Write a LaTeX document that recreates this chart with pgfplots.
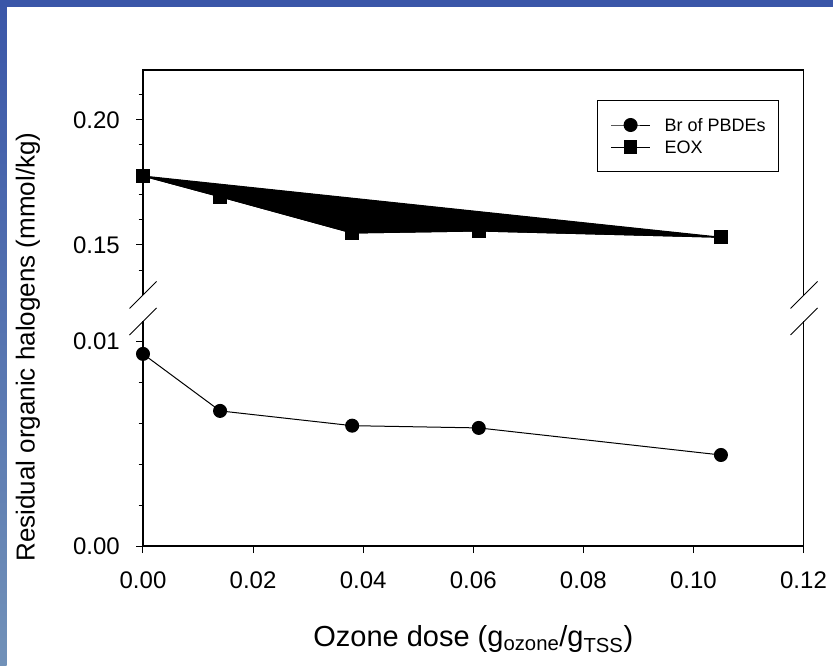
\documentclass[border=0pt]{standalone}
\usepackage{pgfplots}
\pgfplotsset{compat=1.18}
\usepackage{fontspec}
\setmainfont{Liberation Sans}
\definecolor{slideblue}{HTML}{3A56A8}
\definecolor{slidelight}{HTML}{7191B8}
\newcommand{\legfont}{\fontsize{18}{21}\selectfont}
\begin{document}
\begin{tikzpicture}[x=1pt,y=1pt]
\useasboundingbox (0,0) rectangle (833,-666);
\fill[white] (0,0) rectangle (833,-666);
\shade[top color=slideblue, bottom color=slidelight] (0,0) rectangle (6.5,-666);
\fill[slideblue] (0,0) rectangle (833,-7);
\pgfplotsset{
  brk/.style={
    scale only axis, width=660.5pt,
    xmin=0, xmax=0.12,
    axis line style={draw=none},
    tick align=outside,
    major tick length=7pt, minor tick length=4.5pt,
    every tick/.style={black, line width=1pt},
    minor tick style={black, line width=1pt},
    ytick pos=left, xtick pos=bottom,
    scaled ticks=false,
    /pgf/number format/assume math mode=true,
    tick label style={font=\fontsize{24}{28}\selectfont},
    yticklabel style={/pgf/number format/fixed, /pgf/number format/fixed zerofill, /pgf/number format/precision=2, inner sep=0pt, anchor=east, xshift=-16pt},
    xticklabel style={/pgf/number format/fixed, /pgf/number format/fixed zerofill, /pgf/number format/precision=2, inner sep=0pt, anchor=north, yshift=-18.7pt},
    clip=false,
  }
}
% upper part
\begin{axis}[brk,
  at={(143pt,-295pt)}, anchor=south west, height=225pt,
  ymin=0.13, ymax=0.22,
  xtick=\empty,
  ytick={0.15,0.20}, minor ytick={0.14,0.16,0.17,0.18,0.19,0.21},
  legend style={at={(0.6875,0.8667)}, anchor=north west, draw=black, line width=1pt,
    inner xsep=13pt, inner ysep=18pt,
    nodes={inner sep=0pt, text depth=0pt}, row sep=9.3pt, column sep=14pt,
    cells={anchor=west}},
  legend cell align=left,
  legend image code/.code={\draw[mark repeat=2,mark phase=2,#1] plot coordinates {(0pt,0pt) (19.5pt,0pt) (39pt,0pt)};},
]
\addlegendimage{black, line width=1pt, mark=*, mark size=6.5pt}
\addlegendentry{\legfont Br of PBDEs}
\addplot[draw=black, fill=black, line width=1pt, forget plot] coordinates {
  (0,0.1776) (0.014,0.1693) (0.038,0.1548) (0.061,0.1556) (0.105,0.1531) (0,0.1776)};
\addplot[black, line width=1pt, mark=square*, mark size=6.3pt] coordinates {
  (0,0.1776) (0.014,0.1693) (0.038,0.1548) (0.061,0.1556) (0.105,0.1531)};
\addlegendentry{\legfont EOX}
\draw[black, line width=1.3pt] (rel axis cs:0,0) -- (rel axis cs:0,1) -- (rel axis cs:1,1) -- (rel axis cs:1,0);
\end{axis}
% lower part
\begin{axis}[brk,
  at={(143pt,-546pt)}, anchor=south west, height=225.5pt,
  ymin=0, ymax=0.011,
  xtick={0,0.02,0.04,0.06,0.08,0.10,0.12},
  ytick={0,0.01}, minor ytick={0.002,0.004,0.006,0.008},
  xlabel={Ozone dose (g\textsubscript{ozone}/g\textsubscript{TSS})},
  xlabel style={font=\fontsize{29}{34}\selectfont, at={(axis description cs:0.5,0)}, anchor=base, yshift=-100.7pt, inner sep=0pt},
  ylabel={Residual organic halogens (mmol/kg)},
  ylabel style={font=\fontsize{26}{30}\selectfont, at={(axis description cs:-0.1741,0.8825)}, anchor=center, inner sep=0pt},
]
\addplot[black, line width=1pt, mark=*, mark size=6.5pt] coordinates {
  (0,0.00937) (0.014,0.00659) (0.038,0.00587) (0.061,0.00576) (0.105,0.00444)};
\draw[black, line width=1.3pt] (rel axis cs:0,1) -- (rel axis cs:0,0) -- (rel axis cs:1,0) -- (rel axis cs:1,1);
\end{axis}
% axis break marks
\draw[black, line width=0.9pt] (129.5,-308.5) -- (156.5,-281.5);
\draw[black, line width=0.9pt] (129.5,-335) -- (156.5,-308);
\draw[black, line width=0.9pt] (790.5,-308.5) -- (817.5,-281.5);
\draw[black, line width=0.9pt] (790.5,-335) -- (817.5,-308);
\end{tikzpicture}
\end{document}
